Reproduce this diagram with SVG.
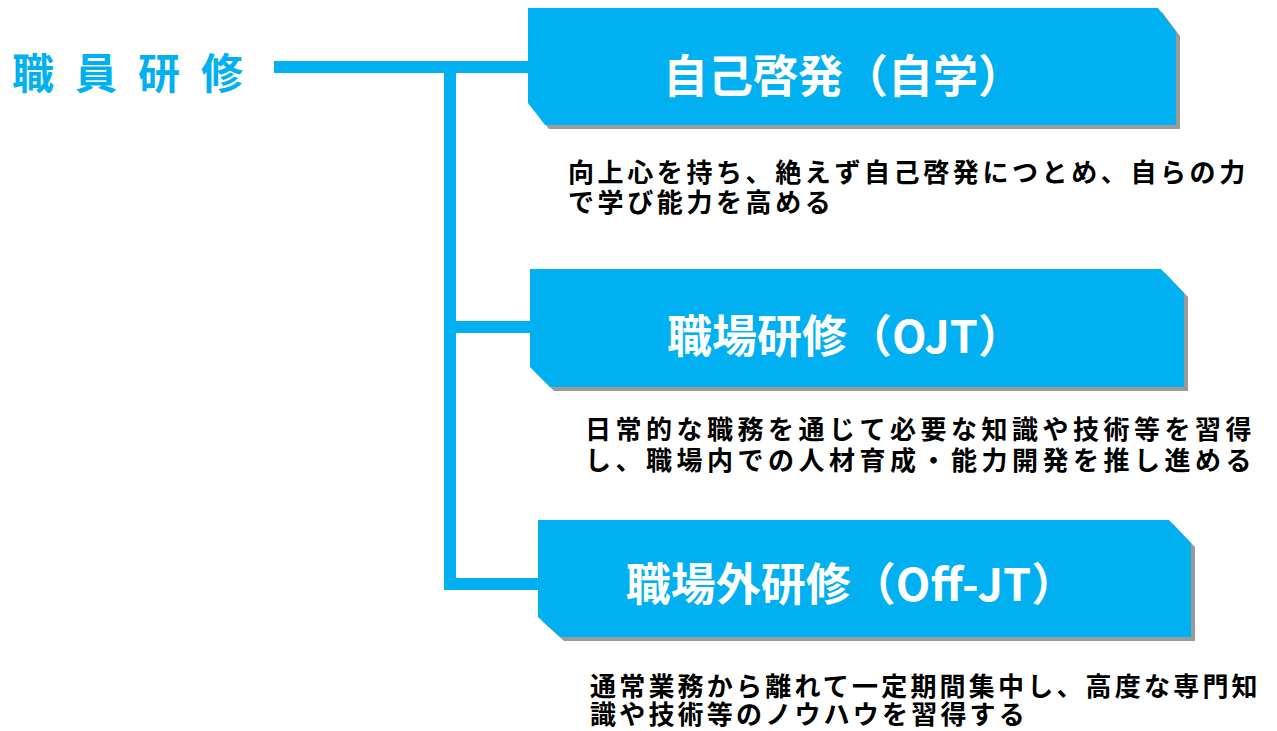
<svg xmlns="http://www.w3.org/2000/svg" width="1277" height="731" viewBox="0 0 1277 731">
<style>
.box{fill:#00B0F0}
.shadow{fill:#9A9A9A}
.conn{fill:#00B0F0}
.lbl{font-family:"Noto Sans CJK JP","Noto Sans",sans-serif;font-size:45px;font-weight:bold;fill:#FFFFFF;text-anchor:middle}
.desc{font-family:"Noto Sans CJK JP","Noto Sans",sans-serif;font-size:26px;font-weight:bold;fill:#000000}
.title{font-family:"Noto Sans CJK JP","Noto Sans",sans-serif;font-size:42px;font-weight:bold;fill:#00B0F0;letter-spacing:21px}
</style>
<rect width="1277" height="731" fill="#FFFFFF"/>
<g id="title">
<text class="title" x="12" y="89">職員研修</text>
</g>
<g id="connectors">
<rect class="conn" x="274" y="61" width="256" height="12"/>
<rect class="conn" x="444" y="61" width="12" height="529"/>
<rect class="conn" x="444" y="321" width="88" height="12"/>
<rect class="conn" x="444" y="578" width="96" height="12"/>
</g>
<g id="node1">
<polygon class="shadow" points="532,12 1162,12 1180,36 1180,129 549,129 532,107"/>
<polygon class="box" points="528,8 1158,8 1176,32 1176,125 545,125 528,103"/>
<text class="lbl" x="843" y="93">自己啓発（自学）</text>
<text class="desc" x="568" y="182" letter-spacing="3.6">向上心を持ち、絶えず自己啓発につとめ、自らの力</text>
<text class="desc" x="568" y="212" letter-spacing="3.6">で学び能力を高める</text>
</g>
<g id="node2">
<polygon class="shadow" points="534,273 1165,273 1188,297 1188,391 554,391 534,371"/>
<polygon class="box" points="530,269 1161,269 1184,293 1184,387 550,387 530,367"/>
<text class="lbl" x="845" y="353">職場研修（OJT）</text>
<text class="desc" x="585" y="439" letter-spacing="4.5">日常的な職務を通じて必要な知識や技術等を習得</text>
<text class="desc" x="585" y="470" letter-spacing="4.5">し、職場内での人材育成・能力開発を推し進める</text>
</g>
<g id="node3">
<polygon class="shadow" points="542,524 1173,524 1195,547 1195,641 564,641 542,621"/>
<polygon class="box" points="538,520 1169,520 1191,543 1191,637 560,637 538,617"/>
<text class="lbl" x="851" y="601">職場外研修（Off-JT）</text>
<text class="desc" x="590" y="696" letter-spacing="3.2">通常業務から離れて一定期間集中し、高度な専門知</text>
<text class="desc" x="590" y="724" letter-spacing="3.2">識や技術等のノウハウを習得する</text>
</g>
</svg>
